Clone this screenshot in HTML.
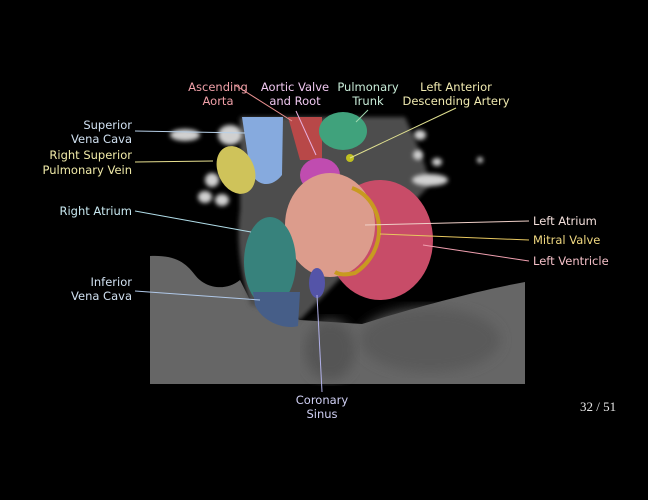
<!DOCTYPE html>
<html><head><style>
html,body{margin:0;padding:0;background:#000;width:648px;height:500px;overflow:hidden}
svg{display:block}
text{font-family:"DejaVu Sans","Liberation Sans",sans-serif;font-size:11.5px}
</style></head><body>
<svg width="648" height="500" viewBox="0 0 648 500">
<defs>
<filter id="b2"><feGaussianBlur stdDeviation="2"/></filter>
<filter id="b4"><feGaussianBlur stdDeviation="6"/></filter>
</defs>
<rect width="648" height="500" fill="#000"/>
<!-- lower body gray -->
<path d="M150,256 C175,255 185,262 195,275 C205,288 225,292 240,280 L250,300 L300,320 L362,324 C400,312 470,292 525,282 L525,384 L150,384 Z" fill="#666"/>
<ellipse cx="430" cy="340" rx="70" ry="32" fill="#5a5a5a" filter="url(#b4)"/>
<ellipse cx="330" cy="350" rx="25" ry="30" fill="#555" filter="url(#b4)"/>
<!-- mid tissue -->
<path d="M240,117 L405,117 C415,140 425,160 430,185 L300,320 L250,305 C240,270 236,240 240,210 Z" fill="#4e4e4e" filter="url(#b2)"/>
<!-- lung vessels -->
<g fill="#d0d0d0" filter="url(#b2)">
<ellipse cx="185" cy="135" rx="15" ry="6"/><ellipse cx="230" cy="135" rx="12" ry="10"/>
<ellipse cx="212" cy="180" rx="7" ry="7"/><ellipse cx="205" cy="197" rx="7" ry="6"/><ellipse cx="222" cy="200" rx="7" ry="6"/>
<ellipse cx="420" cy="135" rx="6" ry="5"/><ellipse cx="418" cy="155" rx="5" ry="5"/><ellipse cx="437" cy="162" rx="5" ry="4"/>
<ellipse cx="430" cy="180" rx="18" ry="6"/><ellipse cx="480" cy="160" rx="3" ry="3"/>
</g>
<!-- structures -->
<path d="M242,117 L283,117 L282,175 C270,190 255,185 250,170 Z" fill="#86aade"/>
<ellipse cx="236" cy="170" rx="18" ry="25" transform="rotate(-25 236 170)" fill="#cfc35a"/>
<path d="M288,117 L322,117 L322,160 L300,160 Z" fill="#b84848"/>
<ellipse cx="343" cy="131" rx="24" ry="19" fill="#40a27c"/>
<circle cx="350" cy="158" r="4" fill="#c0c020"/>
<ellipse cx="320" cy="175" rx="20" ry="17" fill="#c04cb0"/>
<ellipse cx="380" cy="240" rx="53" ry="60" fill="#c84c68"/>
<ellipse cx="330" cy="225" rx="45" ry="52" fill="#dc9c8c"/>
<path d="M352,188 C385,200 390,250 355,273 C345,275 340,275 335,272" fill="none" stroke="#c89a20" stroke-width="4"/>
<ellipse cx="270" cy="262" rx="26" ry="45" fill="#37827c"/>
<path d="M253,292 L300,292 L298,326 C285,330 262,322 255,305 Z" fill="#465e88"/>
<ellipse cx="317" cy="283" rx="8" ry="15" fill="#5454a8"/>
<!-- lines -->
<g stroke-width="1" fill="none">
<line x1="235" y1="85" x2="292" y2="121" stroke="#e89090"/>
<line x1="296" y1="111" x2="316" y2="155" stroke="#e8b0e0"/>
<line x1="368" y1="110" x2="356" y2="122" stroke="#a0d8b0"/>
<line x1="456" y1="108" x2="350" y2="158" stroke="#e0e090"/>
<line x1="135" y1="131" x2="245" y2="133" stroke="#b8d0e8"/>
<line x1="135" y1="162" x2="213" y2="161" stroke="#e8e090"/>
<line x1="135" y1="211" x2="251" y2="232" stroke="#b0dce8"/>
<line x1="135" y1="291" x2="260" y2="300" stroke="#b0c8e8"/>
<line x1="317" y1="295" x2="322" y2="392" stroke="#b0b0e8"/>
<line x1="365" y1="225" x2="529" y2="221" stroke="#f0d0c8"/>
<line x1="380" y1="234" x2="529" y2="240" stroke="#e8c860"/>
<line x1="423" y1="245" x2="529" y2="261" stroke="#f0a0b0"/>
</g>
<!-- labels -->
<g text-anchor="middle">
<text x="218" y="91" fill="#f0a0a8">Ascending</text><text x="218" y="105" fill="#f0a0a8">Aorta</text>
<text x="295" y="91" fill="#f0c8f0">Aortic Valve</text><text x="295" y="105" fill="#f0c8f0">and Root</text>
<text x="368" y="91" fill="#c8ecd8">Pulmonary</text><text x="368" y="105" fill="#c8ecd8">Trunk</text>
<text x="456" y="91" fill="#f0eab0">Left Anterior</text><text x="456" y="105" fill="#f0eab0">Descending Artery</text>
<text x="322" y="404" fill="#d0d0f4">Coronary</text><text x="322" y="418" fill="#d0d0f4">Sinus</text>
</g>
<g text-anchor="end">
<text x="132" y="129" fill="#d0e0f0">Superior</text><text x="132" y="143" fill="#d0e0f0">Vena Cava</text>
<text x="132" y="159" fill="#f0eaa8">Right Superior</text><text x="132" y="174" fill="#f0eaa8">Pulmonary Vein</text>
<text x="132" y="215" fill="#c8e8f0">Right Atrium</text>
<text x="132" y="286" fill="#d0e0f0">Inferior</text><text x="132" y="300" fill="#d0e0f0">Vena Cava</text>
</g>
<text x="533" y="225" fill="#f4e0dc">Left Atrium</text>
<text x="533" y="244" fill="#f0d880">Mitral Valve</text>
<text x="533" y="265" fill="#f4c0c8">Left Ventricle</text>
<text x="580" y="411" fill="#e8e8e8" style="font-family:'Liberation Serif',serif;font-size:13px">32 / 51</text>
</svg>
</body></html>
